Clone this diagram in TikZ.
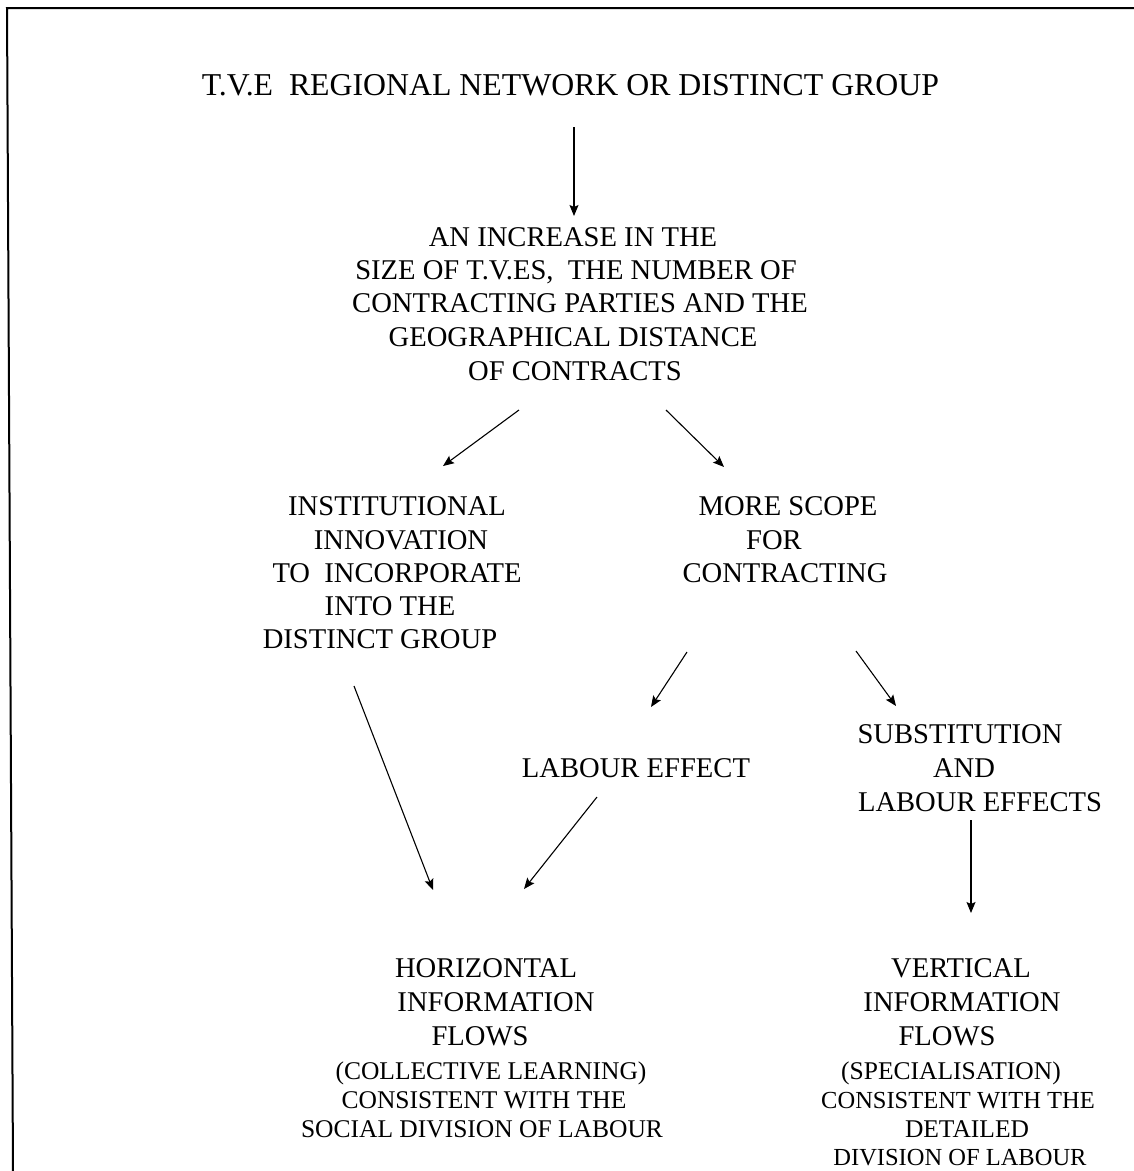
\documentclass[tikz,border=0pt]{standalone}
\usepackage{fontspec}
\setmainfont{Liberation Serif}
\usetikzlibrary{arrows.meta}
\begin{document}
\begin{tikzpicture}[x=1pt,y=-1pt,
  ttl/.style={anchor=base,inner sep=0pt,font=\fontsize{31.8}{36}\selectfont},
  lbl/.style={anchor=base,inner sep=0pt,font=\fontsize{28.6}{33}\selectfont},
  sml/.style={anchor=base,inner sep=0pt,font=\fontsize{25.5}{30}\selectfont},
  smlr/.style={anchor=base,inner sep=0pt,font=\fontsize{24.5}{30}\selectfont},
  arr/.style={-{Stealth[length=11pt,width=9pt,inset=2pt]},line width=1.1pt},
  frameline/.style={line width=2pt}]
\useasboundingbox (0,0) rectangle (1134,1171);
% frame (top and left edges)
\coordinate (fTR) at (1134,8);
\coordinate (fTL) at (7,8);
\coordinate (fBL) at (13,1171);
\draw[frameline] (fTR) -- (fTL) -- (fBL);

% title
\node[ttl] (t1) at (570.5,95) {T.V.E\ \ REGIONAL NETWORK OR DISTINCT GROUP};

% increase block
\node[lbl] (a1) at (573,246) {AN INCREASE IN THE};
\node[lbl] (a2) at (576,279) {SIZE OF T.V.ES,\ \ THE NUMBER OF};
\node[lbl] (a3) at (580,312) {CONTRACTING PARTIES AND THE};
\node[lbl] (a4) at (573,346) {GEOGRAPHICAL DISTANCE};
\node[lbl] (a5) at (575,380) {OF CONTRACTS};

% institutional innovation
\node[lbl] (i1) at (397,515) {INSTITUTIONAL};
\node[lbl] (i2) at (401,549) {INNOVATION};
\node[lbl] (i3) at (397,582) {TO\ \ INCORPORATE};
\node[lbl] (i4) at (390,615) {INTO THE};
\node[lbl] (i5) at (380,648) {DISTINCT GROUP};

% more scope
\node[lbl] (m1) at (788,515) {MORE SCOPE};
\node[lbl] (m2) at (774,549) {FOR};
\node[lbl] (m3) at (785,582) {CONTRACTING};

% labour effect
\node[lbl] (l1) at (636,777) {LABOUR EFFECT};

% substitution
\node[lbl] (s1) at (960,743) {SUBSTITUTION};
\node[lbl] (s2) at (964,777) {AND};
\node[lbl] (s3) at (980,811) {LABOUR EFFECTS};

% horizontal flows
\node[lbl] (h1) at (486,977) {HORIZONTAL};
\node[lbl] (h2) at (496,1011) {INFORMATION};
\node[lbl] (h3) at (480,1045) {FLOWS};
\node[sml] (h4) at (491,1079) {(COLLECTIVE LEARNING)};
\node[sml] (h5) at (484,1108) {CONSISTENT WITH THE};
\node[sml] (h6) at (482,1137) {SOCIAL DIVISION OF LABOUR};

% vertical flows
\node[lbl] (v1) at (961,977) {VERTICAL};
\node[lbl] (v2) at (962,1011) {INFORMATION};
\node[lbl] (v3) at (947,1045) {FLOWS};
\node[sml] (v4) at (951,1079) {(SPECIALISATION)};
\node[smlr] (v5) at (958,1108) {CONSISTENT WITH THE};
\node[sml] (v6) at (967,1137) {DETAILED};
\node[smlr] (v7) at (960,1165) {DIVISION OF LABOUR};

% arrow endpoints
\coordinate (p1s) at (574,127);  \coordinate (p1e) at (574,216);
\coordinate (p2s) at (519,410);  \coordinate (p2e) at (443,466);
\coordinate (p3s) at (666,410);  \coordinate (p3e) at (724,467);
\coordinate (p4s) at (687,652);  \coordinate (p4e) at (651,707);
\coordinate (p5s) at (856,651);  \coordinate (p5e) at (896,706);
\coordinate (p6s) at (354,686);  \coordinate (p6e) at (433,890);
\coordinate (p7s) at (597,797);  \coordinate (p7e) at (524,889);
\coordinate (p8s) at (971,820);  \coordinate (p8e) at (971,913);

\draw[arr] (p1s) -- (p1e);
\draw[arr] (p2s) -- (p2e);
\draw[arr] (p3s) -- (p3e);
\draw[arr] (p4s) -- (p4e);
\draw[arr] (p5s) -- (p5e);
\draw[arr] (p6s) -- (p6e);
\draw[arr] (p7s) -- (p7e);
\draw[arr] (p8s) -- (p8e);
\end{tikzpicture}
\end{document}
